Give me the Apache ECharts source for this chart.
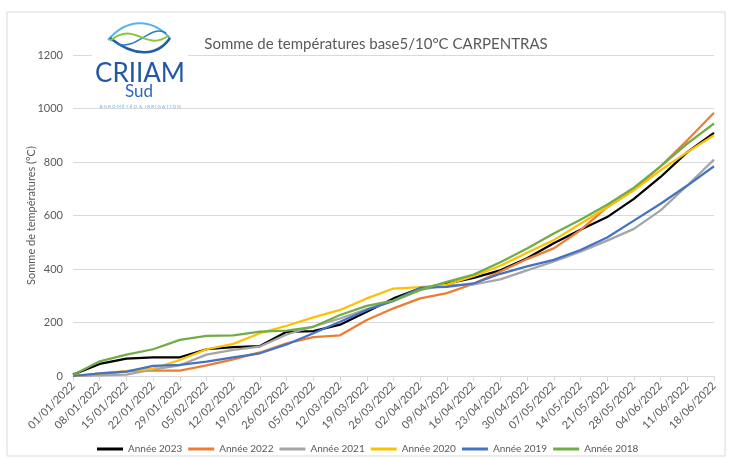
<!DOCTYPE html>
<html>
<head>
<meta charset="utf-8">
<script src="https://cdn.jsdelivr.net/npm/echarts@6/dist/echarts.min.js"></script>
<style>
  html, body { margin: 0; padding: 0; background: #fff; }
  #chart { width: 732px; height: 458px; }
</style>
</head>
<body>
<div id="chart"></div>
<script>
// dates hebdo (axe X)
var dates = ['01/01/2022', '08/01/2022', '15/01/2022', '22/01/2022', '29/01/2022', '05/02/2022',
  '12/02/2022', '19/02/2022', '26/02/2022', '05/03/2022', '12/03/2022', '19/03/2022', '26/03/2022',
  '02/04/2022', '09/04/2022', '16/04/2022', '23/04/2022', '30/04/2022', '07/05/2022', '14/05/2022',
  '21/05/2022', '28/05/2022', '04/06/2022', '11/06/2022', '18/06/2022'];

// somme de températures (°C)
var annee2023 = [5, 45, 65, 70, 70, 100, 108, 112, 165, 168, 192, 240, 290, 328, 345, 367, 395, 440, 496, 547, 594, 662, 744, 837, 909];
var annee2022 = [0, 5, 18, 20, 20, 40, 62, 88, 122, 145, 152, 209, 253, 290, 310, 345, 391, 437, 477, 545, 631, 696, 784, 881, 984];
var annee2021 = [0, 2, 5, 25, 40, 80, 98, 110, 155, 185, 215, 250, 280, 322, 340, 342, 361, 395, 428, 465, 506, 550, 619, 712, 809];
var annee2020 = [0, 10, 18, 28, 60, 100, 120, 160, 188, 219, 247, 290, 327, 332, 342, 373, 412, 461, 508, 569, 631, 694, 769, 837, 900];
var annee2019 = [0, 10, 16, 38, 42, 54, 70, 85, 118, 160, 203, 247, 282, 330, 333, 346, 382, 410, 434, 471, 518, 581, 644, 712, 784];
var annee2018 = [4, 55, 80, 100, 135, 150, 152, 166, 170, 184, 228, 262, 282, 322, 352, 379, 425, 477, 533, 584, 640, 704, 784, 869, 944];

var noms = ['Année 2023', 'Année 2022', 'Année 2021', 'Année 2020', 'Année 2019', 'Année 2018'];
var couleurs = ['#000000', '#ED7D31', '#A5A5A5', '#FFC000', '#4472C4', '#70AD47'];
var valeurs = [annee2023, annee2022, annee2021, annee2020, annee2019, annee2018];

var police = 'Lato';
var gris = '#595959';

var series = valeurs.map(function (v, i) {
  return {
    name: noms[i],
    type: 'line',
    data: v,
    showSymbol: false,
    smooth: false,
    lineStyle: { color: couleurs[i], width: 2.25 },
    itemStyle: { color: couleurs[i] }
  };
});

var myChart = echarts.init(document.getElementById('chart'));

var option = {
  backgroundColor: '#fff',
  animation: false,
  textStyle: { fontFamily: police },
  title: {
    text: 'Somme de températures base5/10°C CARPENTRAS',
    left: 371,
    textAlign: 'center',
    top: 32,
    textStyle: { fontFamily: police, fontSize: 15, fontWeight: 'normal', color: gris }
  },
  legend: {
    data: noms,
    top: 439,
    left: 92,
    icon: 'rect',
    itemWidth: 26,
    itemHeight: 3,
    itemGap: 6,
    textStyle: { fontFamily: police, fontSize: 10, color: gris }
  },
  grid: { left: 73, right: 18, top: 55, bottom: 82, containLabel: false },
  xAxis: {
    type: 'category',
    data: dates,
    boundaryGap: false,
    axisLine: { lineStyle: { color: '#D9D9D9' } },
    axisTick: { show: true, alignWithLabel: true, length: 5, lineStyle: { color: '#D9D9D9' } },
    axisLabel: { interval: 0, rotate: 45, color: gris, fontSize: 11, fontFamily: police, margin: 8 },
    splitLine: { show: false }
  },
  yAxis: {
    type: 'value',
    min: 0,
    max: 1200,
    interval: 200,
    name: 'Somme de températures (°C)',
    nameLocation: 'middle',
    nameGap: 36,
    nameMoveOverlap: false,
    nameTextStyle: { color: gris, fontSize: 11, fontFamily: police },
    axisLine: { show: false },
    axisTick: { show: false },
    axisLabel: { color: gris, fontSize: 11, fontFamily: police, margin: 10, formatter: function (v) { return String(v); } },
    splitLine: { lineStyle: { color: '#D9D9D9' } }
  },
  graphic: [
    // cadre du graphique
    { type: 'rect', shape: { x: 7, y: 12, width: 718, height: 444 }, style: { fill: 'none', stroke: '#D9D9D9', lineWidth: 1 }, z: 0, silent: true },
    // logo CRIIAM Sud
    { type: 'rect', shape: { x: 92, y: 14, width: 96, height: 90 }, style: { fill: '#fff' }, z: 100 },
    { type: 'bezierCurve', shape: { x1: 108, y1: 40, x2: 170, y2: 38, cpx1: 125, cpy1: 20, cpx2: 150, cpy2: 16 }, style: { stroke: '#5AB4E5', lineWidth: 2, fill: 'none' }, z: 101 },
    { type: 'bezierCurve', shape: { x1: 110, y1: 38, x2: 170, y2: 38, cpx1: 135, cpy1: 58, cpx2: 158, cpy2: 56 }, style: { stroke: '#1F5FA8', lineWidth: 2.5, fill: 'none' }, z: 101 },
    { type: 'bezierCurve', shape: { x1: 110, y1: 41, x2: 168, y2: 36, cpx1: 135, cpy1: 20, cpx2: 145, cpy2: 52 }, style: { stroke: '#8CC63F', lineWidth: 2, fill: 'none' }, z: 102 },
    { type: 'bezierCurve', shape: { x1: 118, y1: 44, x2: 166, y2: 33, cpx1: 138, cpy1: 50, cpx2: 150, cpy2: 24 }, style: { stroke: '#2A7BC4', lineWidth: 1.5, fill: 'none' }, z: 101 },
    { type: 'text', style: { x: 140, y: 74, text: 'CRIIAM', align: 'center', verticalAlign: 'middle', fill: '#2358A6', font: '26px Lato' }, z: 103 },
    { type: 'text', style: { x: 139, y: 92, text: 'Sud', align: 'center', verticalAlign: 'middle', fill: '#2A6AB8', font: '17px Lato' }, z: 103 },
    { type: 'text', style: { x: 140, y: 107, text: 'A G R O M É T É O  &  I R R I G A T I O N', align: 'center', verticalAlign: 'middle', fill: '#5AB4E5', font: '4.5px Lato' }, z: 103 }
  ],
  series: series
};

myChart.setOption(option);
</script>
</body>
</html>
